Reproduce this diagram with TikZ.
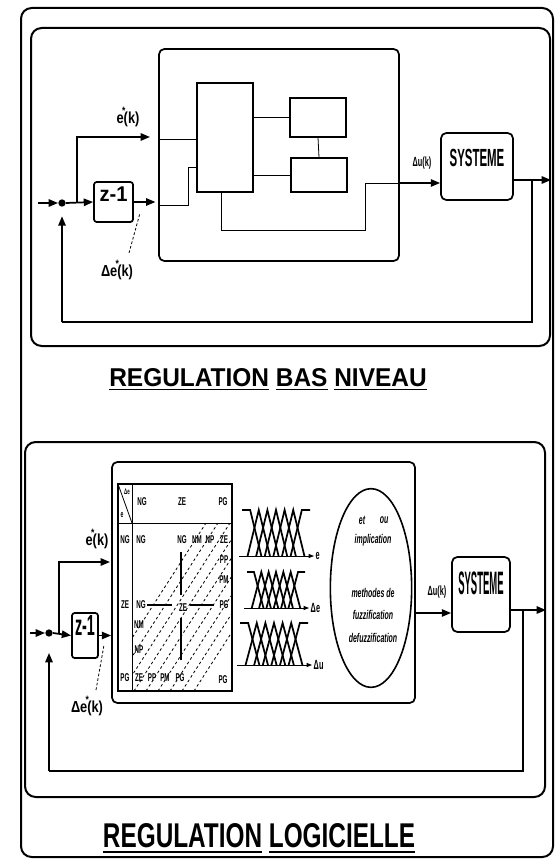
\documentclass[tikz,border=0pt]{standalone}
\usepackage{fontspec}
\setmainfont{Liberation Sans}
\newfontfamily\cnd[FakeStretch=0.8]{Liberation Sans}
\newfontfamily\nrw[FakeStretch=0.55]{Liberation Sans}
\usetikzlibrary{arrows.meta,shapes.geometric,fit}
\newcommand\estar{e\hbox to 0pt{\hss\raisebox{0.62em}{\footnotesize *}\hss}}
\begin{document}
\begin{tikzpicture}[x=0.75pt,y=-0.75pt,
  frm/.style={draw,line width=1.5pt,rounded corners=8pt,inner sep=0pt},
  blk/.style={draw,line width=1.3pt,rounded corners=4pt,inner sep=0pt},
  sq/.style={draw,line width=0.8pt,inner sep=0pt},
  thk/.style={line width=1.3pt},
  arw/.style={line width=1.3pt,-{Triangle[length=7pt,width=5.5pt]}},
  wire/.style={line width=0.6pt},
  mf/.style={line width=1.3pt},
  lbl/.style={font=\cnd\bfseries\fontsize{12}{13}\selectfont,inner sep=0pt},
  sml/.style={font=\nrw\bfseries\fontsize{10}{11}\selectfont,inner sep=0pt},
  tb/.style={font=\nrw\bfseries\fontsize{8.5}{9}\selectfont,inner sep=0pt},
  it/.style={font=\nrw\bfseries\itshape\fontsize{9.5}{10}\selectfont,inner sep=0pt},
]
\useasboundingbox (0,0) rectangle (556,866);
% frames
\node[frm, fit={(21,8) (553,857)}] (frame) {};
\node[frm, fit={(31,28) (550,346)}] (top) {};
\node[frm, fit={(25,442) (545,797)}] (bot) {};
% titles
\node[inner sep=0pt, anchor=base] (t1) at (268,386) {\resizebox{238pt}{13.5pt}{\bfseries\underline{REGULATION} \underline{BAS} \underline{NIVEAU}}};
\node[inner sep=0pt, anchor=base] (t2) at (259,847) {\resizebox{234pt}{18pt}{\bfseries\underline{REGULATION} \underline{LOGICIELLE}}};

% ===== top diagram =====
\node[blk, fit={(159,49) (399,261)}] (c1) {};
\node[sq, fit={(197,83) (253,192)}] (rb) {};
\node[sq, fit={(290,98) (346,137)}] (s1) {};
\node[sq, fit={(291,158) (347,192)}] (s2) {};
\draw[wire] (s1.west) -- (s1.west -| rb.east);
\draw[wire] (s2.west) -- (s2.west -| rb.east);
\draw[wire] (s1.south) -- (s2.north);
\coordinate (a1) at (159,139);
\draw[wire] (a1) -- (a1 -| rb.west);
\coordinate (a2) at (159,205);
\draw[wire] (a2) -- (188,205) -- (188,167) -- (197,167);
\coordinate (a3) at (221,192);
\coordinate (u1) at (399,183);
\draw[wire] (a3) -- (221,230) -- (365,230) -- (365,183) -- (u1);
\node[blk, fit={(441,133) (513,200)}] (sys1) {\resizebox{41pt}{13pt}{\bfseries SYSTEME}};
\draw[arw] (u1) -- (u1 -| sys1.west);
\node[sml] (du1) at (422,163) {Δu(k)};
\coordinate (y1) at (513,180);
\draw[arw] (y1) -- (y1 -| top.east);
\node[circle,fill,inner sep=0pt,minimum size=5.5pt] (j1) at (62,203) {};
\coordinate (f1) at (62,322);
\draw[thk] (532,180) -- (532,322) -- (f1);
\draw[arw, shorten >=7pt] (f1) -- (j1.south);
\coordinate (in1) at (38,203);
\draw[arw] (in1) -- (j1.west);
\node[blk, rounded corners=2pt, fit={(94,182) (133,222)}] (z1) {\resizebox{21pt}{11pt}{\bfseries z-1}};
\draw[arw] (j1.east) -- (z1.west);
\coordinate (b1) at (77,203);
\draw[arw] (b1) -- (77,137) -- (150,137);
\node[lbl] (ek1) at (128,117) {\estar(k)};
\draw[arw, shorten >=2pt] (z1.east) -- (z1.east -| c1.west);
\node[lbl] (de1) at (117,270) {Δ\estar(k)};
\draw[wire, dash pattern=on 2pt off 1.5pt] (129,253) -- (140,213);

% ===== bottom diagram =====
\node[blk, fit={(112,462) (415,703)}] (c2) {};
\node[sq, fit={(118,484) (232,691)}] (tab) {};
\draw[wire] (118,523) -- (232,523);
\draw[wire] (132,484) -- (132,691);
\draw[wire] (118,484) -- (132,523);
\begin{scope}
\clip (132,523) rectangle (232,691);
\foreach \k in {0,...,8} \draw[wire, dash pattern=on 2pt off 2pt] ({98+12*\k},691) -- ++(108,-168);
\end{scope}
\draw[line width=0.9pt] (147,605) -- (172,605);
\draw[line width=0.9pt] (190,605) -- (214,605);
\draw[line width=0.9pt] (181,552) -- (181,595);
\draw[line width=0.9pt] (181,618) -- (181,660);
% table labels
\node[tb, font=\nrw\bfseries\fontsize{6}{6}\selectfont] (h0) at (127,492) {Δe};
\node[tb, font=\nrw\bfseries\fontsize{7}{7}\selectfont] (h00) at (122,515) {e};
\node[tb] (h1) at (142,502) {NG};
\node[tb] (h2) at (182,502) {ZE};
\node[tb] (h3) at (223,502) {PG};
\node[tb] (l1) at (125,540) {NG};
\node[tb] (l2) at (125,605) {ZE};
\node[tb] (l3) at (125,678) {PG};
\node[tb] (g1) at (141,540) {NG};
\node[tb] (g2) at (182,540) {NG};
\node[tb] (g3) at (197,540) {NM};
\node[tb] (g4) at (210,540) {NP};
\node[tb] (g5) at (224,540) {ZE};
\node[tb] (g6) at (224,560) {PP};
\node[tb] (g7) at (224,580) {PM};
\node[tb] (g8) at (141,605) {NG};
\node[tb] (g9) at (183,608) {ZE};
\node[tb] (g10) at (224,605) {PG};
\node[tb] (g11) at (139,625) {NM};
\node[tb] (g12) at (139,650) {NP};
\node[tb] (g13) at (139,678) {ZE};
\node[tb] (g14) at (152,678) {PP};
\node[tb] (g15) at (165,678) {PM};
\node[tb] (g16) at (180,678) {PG};
\node[tb] (g17) at (223,680) {PG};
% membership functions
\foreach \T/\B/\xo/\w/\lab [count=\r] in {510/556/242/68/e, 572/608/247/58/Δe, 623/665/240/68/Δu}{
  \pgfmathsetmacro\sp{0.76*\w/6}
  \pgfmathsetmacro\cz{\xo+0.12*\w}
  \draw[mf] (\xo,\T) -- (\cz,\T) -- ({\cz+1.3*\sp},\B);
  \foreach \i in {1,...,5}{
    \draw[mf] ({\cz+\i*\sp-1.3*\sp},\B) -- ({\cz+\i*\sp},\T) -- ({\cz+\i*\sp+1.3*\sp},\B);
  }
  \draw[mf] ({\cz+6*\sp-1.3*\sp},\B) -- ({\cz+6*\sp},\T) -- ({\xo+\w},\T);
  \draw[wire, -{Triangle[length=4pt,width=3pt]}] ({\xo-3},\B) -- ({\xo+\w+4},\B) node[right, inner sep=1pt, font=\nrw\bfseries\fontsize{10}{10}\selectfont] (ml\r) {\lab};
}
% ellipse
\node[draw, ellipse, line width=1.2pt, minimum width=61pt, minimum height=149pt, inner sep=0pt] (ell) at (371,588) {};
\node[it] (e1) at (362,520) {et};
\node[it] (e2) at (384,520) {ou};
\node[it] (e3) at (373,540) {implication};
\node[it] (e4) at (373,593) {methodes de};
\node[it] (e5) at (373,615) {fuzzification};
\node[it] (e6) at (373,638) {defuzzification};
% output
\node[blk, fit={(452,557) (510,632)}] (sys2) {\resizebox{34pt}{17pt}{\bfseries SYSTEME}};
\coordinate (u2) at (415,613);
\draw[arw] (u2) -- (u2 -| sys2.west);
\node[sml] (du2) at (437,592) {Δu(k)};
\coordinate (y2) at (510,610);
\draw[arw] (y2) -- (y2 -| bot.east);
\node[circle,fill,inner sep=0pt,minimum size=5.5pt] (j2) at (49,633) {};
\coordinate (f2) at (49,771);
\draw[thk] (523,610) -- (523,771) -- (f2);
\draw[arw, shorten >=12pt] (f2) -- (j2.south);
\coordinate (in2) at (30,633);
\draw[arw] (in2) -- (j2.west);
\node[blk, rounded corners=2pt, fit={(72,613) (98,658)}] (z2) {\resizebox{15pt}{15pt}{\bfseries z-1}};
\draw[arw] (j2.east) -- (z2.west);
\coordinate (b2) at (59,633);
\draw[arw] (b2) -- (59,562) -- (110,562);
\node[lbl] (ek2) at (97,539) {\estar(k)};
\draw[arw] (z2.east) -- (z2.east -| c2.west);
\node[lbl] (de2) at (87,706) {Δ\estar(k)};
\draw[wire, dash pattern=on 2pt off 1.5pt] (96,690) -- (104,645);
\end{tikzpicture}
\end{document}
